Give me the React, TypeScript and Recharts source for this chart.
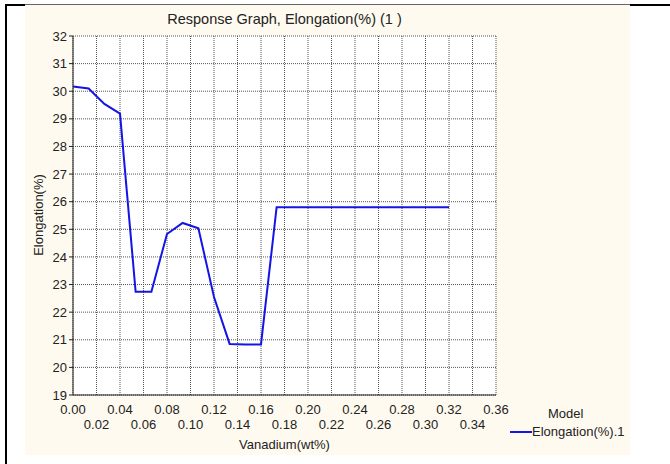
import { LineChart, Line, XAxis, YAxis, CartesianGrid } from 'recharts'

const VANADIUM = [
  0, 0.0133, 0.0267, 0.04, 0.0533, 0.0667, 0.08, 0.0933, 0.1067, 0.12, 0.1333, 0.1467, 0.16,
  0.1733, 0.1867, 0.2, 0.2133, 0.2267, 0.24, 0.2533, 0.2667, 0.28, 0.2933, 0.3067, 0.32,
]
const ELONGATION = [
  30.17, 30.1, 29.54, 29.19, 22.74, 22.74, 24.83, 25.23, 25.04, 22.55, 20.85, 20.83, 20.83,
  25.8, 25.8, 25.8, 25.8, 25.8, 25.8, 25.8, 25.8, 25.8, 25.8, 25.8, 25.8,
]
const X_TICKS = [
  0, 0.02, 0.04, 0.06, 0.08, 0.1, 0.12, 0.14, 0.16, 0.18, 0.2, 0.22, 0.24, 0.26, 0.28, 0.3, 0.32,
  0.34, 0.36,
]
const Y_TICKS = [19, 20, 21, 22, 23, 24, 25, 26, 27, 28, 29, 30, 31, 32]

const data = VANADIUM.map((v, i) => ({ v, e: ELONGATION[i] }))

const FONT = 'Liberation Sans, Arial, sans-serif'
const TEXT = '#222'
const BLUE = '#1414e6'

function XTick({ x, y, payload, index }: any) {
  const dy = index % 2 === 0 ? 11 : 26
  return (
    <text x={x} y={y + dy} textAnchor="middle" fontSize={13} fontFamily={FONT} fill={TEXT}>
      {payload.value.toFixed(2)}
    </text>
  )
}

const txt = { position: 'absolute' as const, fontFamily: FONT, fontSize: 13, color: TEXT, whiteSpace: 'nowrap' as const }

export default function App() {
  return (
    <div style={{ position: 'absolute', left: 0, top: 0, width: 670, height: 464, background: '#fff' }}>
      <div style={{ position: 'absolute', left: 25, top: 5, width: 605, height: 450, background: '#fffaef' }} />
      <div style={{ position: 'absolute', left: 5, top: 4, width: 2, height: 460, background: '#000' }} />
      <div style={{ position: 'absolute', left: 5, top: 4, width: 20, height: 2, background: '#000' }} />
      <div style={{ position: 'absolute', left: 25, top: 4, width: 605, height: 1, background: '#666' }} />
      <div style={{ position: 'absolute', left: 630, top: 4, width: 40, height: 2, background: '#000' }} />
      <div style={{ ...txt, fontSize: 14.5, left: 73, width: 423, top: 11, textAlign: 'center' }}>
        Response Graph, Elongation(%) (1 )
      </div>
      <div style={{ ...txt, left: 73, width: 423, top: 437, textAlign: 'center' }}>Vanadium(wt%)</div>
      <div
        style={{
          ...txt,
          left: 38,
          top: 215,
          transform: 'translate(-50%, -50%) rotate(-90deg)',
        }}
      >
        Elongation(%)
      </div>
      <div style={{ ...txt, left: 548, top: 406 }}>Model</div>
      <div style={{ ...txt, left: 510, top: 424, display: 'flex', alignItems: 'center' }}>
        <span style={{ width: 22, height: 2, background: BLUE, display: 'inline-block' }} />
        <span>Elongation(%).1</span>
      </div>
      <div style={{ position: 'absolute', left: 0, top: 0 }}>
        <LineChart width={670} height={464} data={data} margin={{ top: 36, right: 174, bottom: 29, left: 33 }}>
          <CartesianGrid stroke="#555" strokeDasharray="1 1" fill="#fff" fillOpacity={1} />
          <XAxis
            dataKey="v"
            type="number"
            domain={[0, 0.36]}
            ticks={X_TICKS}
            interval={0}
            height={40}
            tickLine={false}
            axisLine={{ stroke: '#222' }}
            tick={<XTick />}
          />
          <XAxis
            xAxisId="top"
            orientation="top"
            dataKey="v"
            type="number"
            domain={[0, 0.36]}
            ticks={X_TICKS}
            interval={0}
            height={0}
            tick={false}
            tickSize={-3}
            tickLine={{ stroke: '#222' }}
            axisLine={{ stroke: '#222' }}
          />
          <YAxis
            type="number"
            domain={[19, 32]}
            ticks={Y_TICKS}
            interval={0}
            width={40}
            tickSize={4}
            tickLine={{ stroke: '#222' }}
            axisLine={{ stroke: '#222' }}
            tick={{ fontSize: 13, fontFamily: FONT, fill: TEXT }}
          />
          <YAxis
            yAxisId="right"
            orientation="right"
            type="number"
            domain={[19, 32]}
            width={0}
            tick={false}
            tickLine={false}
            axisLine={{ stroke: '#222' }}
          />
          <Line
            dataKey="e"
            type="linear"
            stroke={BLUE}
            strokeWidth={2}
            dot={false}
            isAnimationActive={false}
          />
        </LineChart>
      </div>
    </div>
  )
}
